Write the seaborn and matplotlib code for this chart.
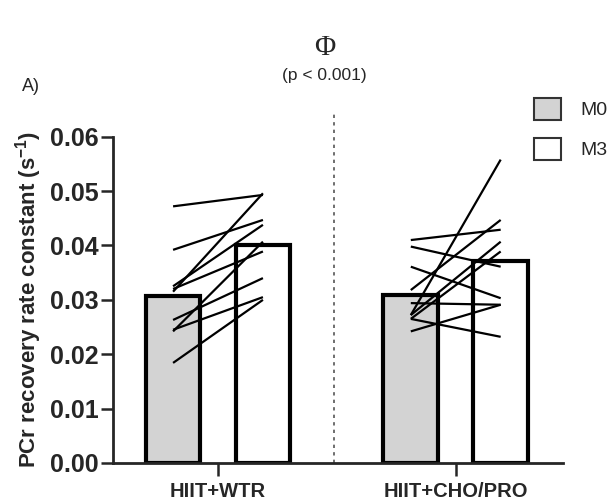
import numpy as np
import pandas as pd
import seaborn as sns
import matplotlib.pyplot as plt

# PCr recovery rate constant per subject (s^-1)
groups = ["HIIT+WTR", "HIIT+CHO/PRO"]
times = ["M0", "M3"]

wtr_m0 = [0.0472, 0.0392, 0.0315, 0.0325, 0.0320, 0.0242, 0.0263, 0.0245, 0.0184]
wtr_m3 = [0.0493, 0.0447, 0.0496, 0.0438, 0.0389, 0.0407, 0.0340, 0.0305, 0.0300]

cho_m0 = [0.0410, 0.0398, 0.0361, 0.0318, 0.0272, 0.0272, 0.0265, 0.0294, 0.0265, 0.0242]
cho_m3 = [0.0429, 0.0361, 0.0303, 0.0447, 0.0558, 0.0407, 0.0389, 0.0291, 0.0232, 0.0291]

yticks = [0.00, 0.01, 0.02, 0.03, 0.04, 0.05, 0.06]

rows = []
for g, m0, m3 in [(groups[0], wtr_m0, wtr_m3), (groups[1], cho_m0, cho_m3)]:
    for i in range(len(m0)):
        rows.append({"group": g, "time": "M0", "subject": i, "k": m0[i]})
        rows.append({"group": g, "time": "M3", "subject": i, "k": m3[i]})
df = pd.DataFrame(rows)

sns.set_style("ticks")
plt.rcParams["font.family"] = ["Liberation Sans", "DejaVu Sans"]
plt.rcParams["mathtext.fontset"] = "custom"
plt.rcParams["mathtext.rm"] = "Liberation Sans"
plt.rcParams["mathtext.bf"] = "Liberation Sans:bold"

fig = plt.figure(figsize=(6.15, 5.01), dpi=100)
ax = fig.add_axes([0.184, 0.076, 0.731, 0.651])

width = 0.756
sns.barplot(data=df, x="group", y="k", hue="time", order=groups, hue_order=times,
            palette={"M0": "#d3d3d3", "M3": "white"}, edgecolor="black",
            linewidth=3, errorbar=None, width=width, gap=0.39, ax=ax, zorder=1)

# paired subject lines
off = width / 4
for gi, g in enumerate(groups):
    sub = df[df["group"] == g]
    for s, d in sub.groupby("subject"):
        d = d.set_index("time")
        ax.plot([gi - off, gi + off], [d.loc["M0", "k"], d.loc["M3", "k"]],
                color="black", lw=1.6, zorder=3, solid_capstyle="butt")

ax.axvline(0.49, ymin=0, ymax=1.07, color="#555555", lw=1.2,
           ls=(0, (2, 2.5)), clip_on=False, zorder=0)

ax.set_ylim(0, 0.06)
ax.set_xlim(-0.441, 1.45)
ax.set_yticks(yticks)
ax.set_yticklabels([f"{v:.2f}" for v in yticks], fontsize=18, fontweight="bold")
ax.set_xticks([0, 1])
ax.set_xticklabels(groups, fontsize=14.5, fontweight="bold")
ax.set_xlabel("")
ax.set_ylabel(r"PCr recovery rate constant (s$^{\mathbf{-1}}$)",
              fontsize=16, fontweight="bold", labelpad=4)
ax.tick_params(axis="y", length=9, width=1.8, pad=1.5)
ax.tick_params(axis="x", length=9, width=1.8, pad=5)
for sp in ["left", "bottom"]:
    ax.spines[sp].set_linewidth(2)
sns.despine(ax=ax)

handles, labels = ax.get_legend_handles_labels()
ax.get_legend().remove()
leg = fig.legend(handles, labels, loc="upper left", bbox_to_anchor=(0.868, 0.805),
                 frameon=False, fontsize=14, handlelength=1.39, handleheight=1.39,
                 handletextpad=1.0, labelspacing=0.9, borderpad=0, borderaxespad=0)
for h in leg.legend_handles:
    h.set_linewidth(1.5)
    h.set_edgecolor("#333333")

fig.text(0.528, 0.904, "Φ", ha="center", va="center", fontsize=21,
         family=["Liberation Serif", "DejaVu Serif"])
fig.text(0.528, 0.850, "(p < 0.001)", ha="center", va="center", fontsize=12.5)
fig.text(0.050, 0.828, "A)", ha="center", va="center", fontsize=13)

fig.savefig("out.png", dpi=100)
